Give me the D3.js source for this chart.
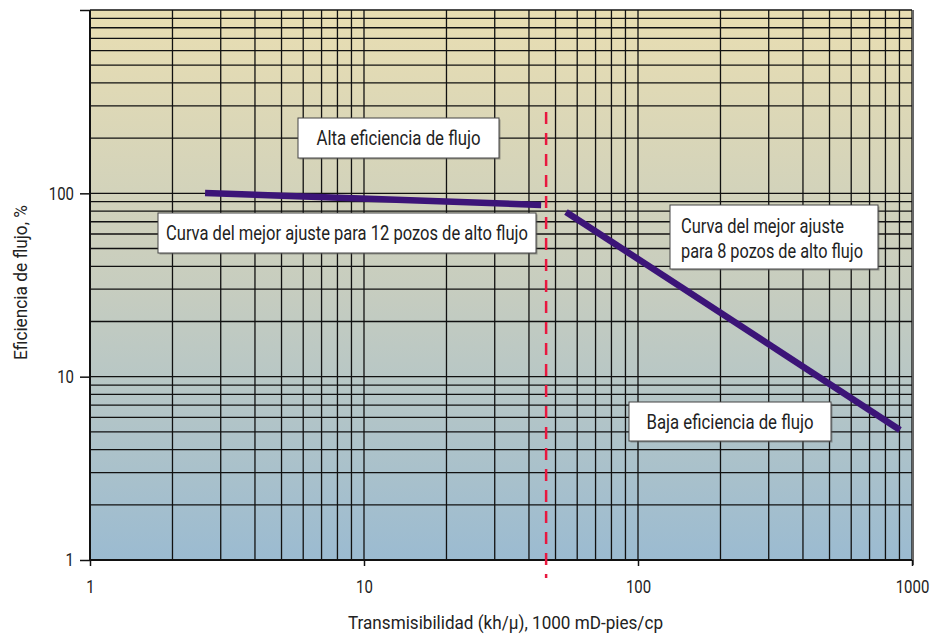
<!doctype HTML>
<html>
<head>
<script src="https://d3js.org/d3.v7.min.js"></script>
<style>
  body { margin: 0; background: #fff; }
  text { font-family: Roboto, "Liberation Sans", sans-serif; fill: #222; }
</style>
</head>
<body>
<script>

    // data
    var xTicks = [1, 10, 100, 1000];
    var yTicks = [1, 10, 100, 1000];
    var yTickLabels = ["1", "10", "100", ""];

    // best fit, 12 high-flow wells
    var fit12X = [2.63, 44.3];
    var fit12Y = [100.4, 86.4];
    // best fit, 8 high-flow wells
    var fit8X = [54.6, 904];
    var fit8Y = [79.1, 5.12];
    // boundary between the two groups
    var boundaryX = 46.2;

    var margin = {top: 10, right: 31, bottom: 74, left: 90},
        width = 943 - margin.left - margin.right,
        height = 634 - margin.top - margin.bottom;

    var svg = d3.select("body")
        .append("svg")
        .attr("width", 943)
        .attr("height", 634);

    var g = svg.append("g")
        .attr("transform", "translate(" + margin.left + "," + margin.top + ")");

    var x = d3.scaleLog().domain([1, 1000]).range([0, width]);
    var y = d3.scaleLog().domain([1, 1000]).range([height, 0]);

    // condensed look: squeeze text to the width seen in the original
    function squeeze(sel, w) {
        sel.attr("textLength", w).attr("lengthAdjust", "spacingAndGlyphs");
    }

    // background gradient
    var grad = svg.append("defs").append("linearGradient")
        .attr("id", "bg")
        .attr("x1", 0).attr("y1", 0).attr("x2", 0).attr("y2", 1);
    grad.append("stop").attr("offset", "0%").attr("stop-color", "#e9deb2");
    grad.append("stop").attr("offset", "50%").attr("stop-color", "#c7cdbf");
    grad.append("stop").attr("offset", "100%").attr("stop-color", "#9bbbd1");

    g.append("rect")
        .attr("width", width)
        .attr("height", height)
        .attr("fill", "url(#bg)");

    // minor + major grid
    var gridVals = [];
    [1, 10, 100].forEach(function(d) {
        for (var i = 1; i <= 9; i++) gridVals.push(d * i);
    });
    gridVals.push(1000);

    g.selectAll(".vgrid")
        .data(gridVals)
        .enter().append("line")
        .attr("class", "vgrid")
        .attr("x1", function(d) { return x(d); })
        .attr("x2", function(d) { return x(d); })
        .attr("y1", 0)
        .attr("y2", height)
        .attr("stroke", "#111")
        .attr("stroke-width", 1.3);

    g.selectAll(".hgrid")
        .data(gridVals)
        .enter().append("line")
        .attr("class", "hgrid")
        .attr("x1", 0)
        .attr("x2", width)
        .attr("y1", function(d) { return y(d); })
        .attr("y2", function(d) { return y(d); })
        .attr("stroke", "#111")
        .attr("stroke-width", 1.3);

    // right border is greyish
    g.append("line")
        .attr("x1", width + 1).attr("x2", width + 1)
        .attr("y1", 0).attr("y2", height + 5)
        .attr("stroke", "#666")
        .attr("stroke-width", 2);

    // axes
    var xAxis = g.append("g")
        .attr("transform", "translate(0," + height + ")")
        .call(d3.axisBottom(x).tickValues(xTicks).tickFormat(d3.format("d")).tickSize(6).tickPadding(14));
    var yAxis = g.append("g")
        .call(d3.axisLeft(y).tickValues(yTicks).tickFormat(function(d, i) { return yTickLabels[i]; }).tickSize(10).tickPadding(6));

    [xAxis, yAxis].forEach(function(a) {
        a.select(".domain").attr("stroke", "#111").attr("stroke-width", 2);
        a.selectAll(".tick line").attr("stroke", "#111").attr("stroke-width", 1.5);
        a.selectAll(".tick text").attr("font-size", "18px").attr("fill", "#222")
            .attr("font-family", "Roboto, 'Liberation Sans', sans-serif")
            .each(function() {
                var n = d3.select(this).text().length;
                if (n) squeeze(d3.select(this), n * 8.4);
            });
    });
    xAxis.select(".domain").attr("d", "M0,0H" + width);
    yAxis.select(".domain").attr("d", "M0," + height + "V0");

    // dashed boundary
    g.append("line")
        .attr("x1", x(boundaryX)).attr("x2", x(boundaryX))
        .attr("y1", 102).attr("y2", height + 18)
        .attr("stroke", "#e8173f")
        .attr("stroke-width", 2.5)
        .attr("stroke-dasharray", "12,9");

    // fit lines
    var line = d3.line()
        .x(function(d) { return x(d[0]); })
        .y(function(d) { return y(d[1]); });

    g.append("path")
        .datum(d3.zip(fit12X, fit12Y))
        .attr("d", line)
        .attr("fill", "none")
        .attr("stroke", "#3c1478")
        .attr("stroke-width", 6.5);

    g.append("path")
        .datum(d3.zip(fit8X, fit8Y))
        .attr("d", line)
        .attr("fill", "none")
        .attr("stroke", "#3c1478")
        .attr("stroke-width", 6.5);

    // annotation boxes
    function box(bx, by, bw, bh, lines, widths) {
        svg.append("rect")
            .attr("x", bx + 1.5).attr("y", by + 1.5)
            .attr("width", bw).attr("height", bh)
            .attr("fill", "#555").attr("opacity", 0.5);
        svg.append("rect")
            .attr("x", bx).attr("y", by)
            .attr("width", bw).attr("height", bh)
            .attr("fill", "#fff")
            .attr("stroke", "#444")
            .attr("stroke-width", 1);
        lines.forEach(function(s, i) {
            var multi = lines.length > 1;
            var t = svg.append("text")
                .attr("font-size", "19.5px")
                .attr("x", multi ? bx + 11 : bx + (bw - widths[i]) / 2)
                .attr("y", by + (multi ? 28 + i * 25 : bh / 2 + 7))
                .text(s);
            squeeze(t, widths[i]);
        });
    }

    box(298, 118, 201, 40, ["Alta eficiencia de flujo"], [164]);
    box(158, 213, 378, 40, ["Curva del mejor ajuste para 12 pozos de alto flujo"], [362]);
    box(670, 205, 208, 64, ["Curva del mejor ajuste", "para 8 pozos de alto flujo"], [163, 182]);
    box(629, 402, 202, 39, ["Baja eficiencia de flujo"], [167]);

    // axis titles
    var xt = svg.append("text")
        .attr("x", 348)
        .attr("y", 629)
        .attr("font-size", "18.5px")
        .text("Transmisibilidad (kh/\u03bc), 1000 mD-pies/cp");
    squeeze(xt, 315);

    var yt = svg.append("text")
        .attr("transform", "translate(27,360) rotate(-90)")
        .attr("font-size", "18.5px")
        .text("Eficiencia de flujo, %");
    squeeze(yt, 155);

</script>
</body>
</html>
